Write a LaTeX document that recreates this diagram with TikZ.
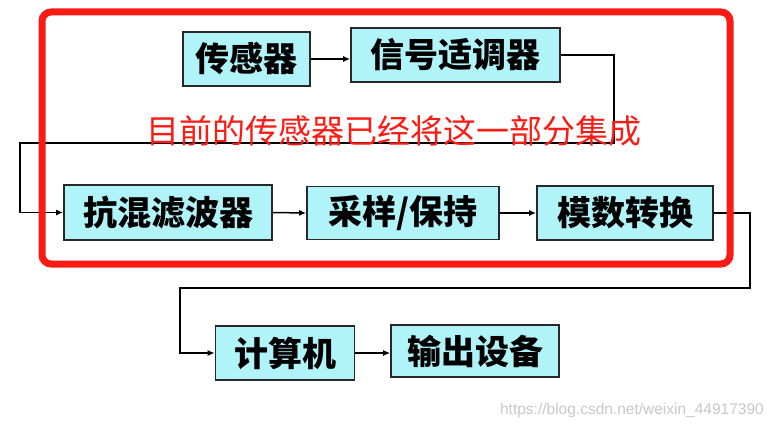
\documentclass[tikz,border=0pt]{standalone}
\usepackage{fontspec}
\newfontfamily\cjk{Noto Sans CJK SC}
\newfontfamily\wm{Liberation Sans}
\usetikzlibrary{arrows.meta}
\definecolor{boxfill}{RGB}{176,244,250}
\definecolor{boxline}{RGB}{40,40,40}
\definecolor{redline}{RGB}{250,28,20}
\definecolor{wmgray}{RGB}{200,200,200}
\tikzset{
  blk/.style={draw=boxline, line width=1.6pt, fill=boxfill, inner sep=0pt,
    font={\cjk\bfseries\fontsize{34}{34}\selectfont}, text=black},
  conn/.style={draw=black, line width=1.5pt, -{Latex[length=7pt,width=6pt]}},
}
\begin{document}
\begin{tikzpicture}[x=1pt,y=-1pt]
\useasboundingbox (0,0) rectangle (773,428);
\fill[white] (0,0) rectangle (773,428);
\node[blk, minimum width=127pt, minimum height=54pt] (s1) at (246.5,59) {传感器};
\node[blk, minimum width=209pt, minimum height=54pt] (s2) at (455.5,55) {信号适调器};
\node[blk, minimum width=208pt, minimum height=55pt] (a1) at (168,212.5) {抗混滤波器};
\node[blk, minimum width=192pt, minimum height=53pt] (a2) at (403,213) {采样/保持};
\node[blk, minimum width=176pt, minimum height=54pt] (a3) at (625,213) {模数转换};
\node[blk, minimum width=139pt, minimum height=54pt] (c1) at (285,353) {计算机};
\node[blk, minimum width=168pt, minimum height=52pt] (c2) at (475,351) {输出设备};
\coordinate (k1) at (614,143);
\coordinate (k2) at (20,143);
\coordinate (k3) at (750,288);
\coordinate (k4) at (180,288);
\draw[conn] (s1.east) -- (s1.east -| s2.west);
\draw[conn] (s2.east) -| (k1) -- (k2) |- (a1.west);
\draw[conn] (a1.east) -- (a2.west);
\draw[conn] (a2.east) -- (a3.west);
\draw[conn] (a3.east) -| (k3) -- (k4) |- (c1.west);
\draw[conn] (c1.east) -- (c1.east -| c2.west);
\draw[redline, line width=7pt, rounded corners=9pt] (42,12) rectangle (730,264);
\node[text=redline, font={\cjk\fontsize{33}{33}\selectfont}, inner sep=0pt] (note) at (394,131) {目前的传感器已经将这一部分集成};
\node[text=wmgray, font={\wm\fontsize{15.5}{16}\selectfont}, inner sep=0pt, anchor=east] (wmark) at (764,410) {https://blog.csdn.net/weixin\_44917390};
\end{tikzpicture}
\end{document}
